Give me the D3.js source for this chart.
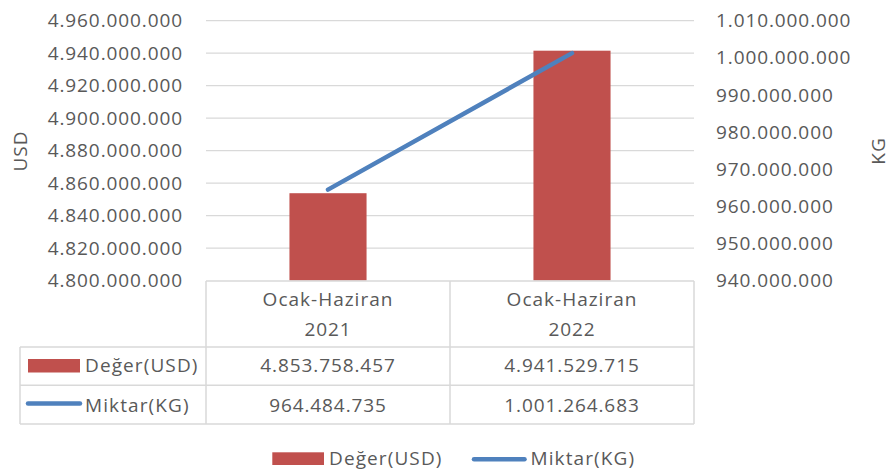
<!DOCTYPE html>
<html>
<head>
<meta charset="utf-8">
<script src="https://cdn.jsdelivr.net/npm/d3@7"></script>
<style>
  body { margin: 0; background: #fff; }
  svg { display: block; font-family: "Open Sans", sans-serif; }
  text { fill: #595959; }
</style>
</head>
<body>
<svg width="891" height="474"></svg>
<script>
var categories = ["Ocak-Haziran 2021", "Ocak-Haziran 2022"];
var degerUSD = [4853758457, 4941529715];
var miktarKG = [964484735, 1001264683];
var leftTicks = [4800000000, 4820000000, 4840000000, 4860000000, 4880000000, 4900000000, 4920000000, 4940000000, 4960000000];
var rightTicks = [940000000, 950000000, 960000000, 970000000, 980000000, 990000000, 1000000000, 1010000000];
var seriesNames = ["Değer(USD)", "Miktar(KG)"];

var red = "#C0504D", blue = "#4F81BD", grid = "#D9D9D9";
var fmt = function(v) { return d3.format(",")(v).replace(/,/g, "."); };

var svg = d3.select("svg");
var plotLeft = 206, plotRight = 694, plotTop = 20.7, plotBottom = 280.5;

var x = d3.scaleBand().domain(categories).range([plotLeft, plotRight])
    .paddingInner(0.684).paddingOuter(0.342);
var y = d3.scaleLinear().domain([4800000000, 4960000000]).range([plotBottom, plotTop]);
var y2 = d3.scaleLinear().domain([940000000, 1010000000]).range([plotBottom, plotTop]);

// gridlines
svg.append("g").selectAll("line").data(leftTicks.slice(1)).join("line")
    .attr("x1", plotLeft).attr("x2", plotRight)
    .attr("y1", d => y(d)).attr("y2", d => y(d))
    .attr("stroke", grid).attr("stroke-width", 1.3);

// axes
var ga = svg.append("g").attr("transform", "translate(183,0)")
    .call(d3.axisLeft(y).tickValues(leftTicks).tickFormat(fmt).tickSize(0).tickPadding(0));
ga.select(".domain").remove();
ga.selectAll("text").attr("font-size", 19).attr("font-family", "Open Sans").attr("letter-spacing", 0.9).style("fill", "#595959");

var gb = svg.append("g").attr("transform", "translate(716,0)")
    .call(d3.axisRight(y2).tickValues(rightTicks).tickFormat(fmt).tickSize(0).tickPadding(0));
gb.select(".domain").remove();
gb.selectAll("text").attr("font-size", 19).attr("font-family", "Open Sans").attr("letter-spacing", 0.9).style("fill", "#595959");

svg.append("text").attr("transform", "translate(27,151) rotate(-90)")
    .attr("text-anchor", "middle").attr("font-size", 19).attr("letter-spacing", 1).text("USD");
svg.append("text").attr("transform", "translate(885,151) rotate(-90)")
    .attr("text-anchor", "middle").attr("font-size", 19).attr("letter-spacing", 1).text("KG");

// bars
svg.append("g").selectAll("rect").data(degerUSD).join("rect")
    .attr("x", (d, i) => x(categories[i]))
    .attr("width", x.bandwidth())
    .attr("y", d => y(d))
    .attr("height", d => plotBottom - y(d))
    .attr("fill", red);

// line
var line = d3.line()
    .x((d, i) => x(categories[i]) + x.bandwidth() / 2)
    .y(d => y2(d));
svg.append("path").datum(miktarKG)
    .attr("d", line).attr("fill", "none")
    .attr("stroke", blue).attr("stroke-width", 4.5).attr("stroke-linecap", "round");

// data table
var t = svg.append("g").attr("stroke", grid).attr("stroke-width", 1.5).attr("fill", "none");
var rowY = [281, 347, 385.3, 424];
t.append("line").attr("x1", plotLeft).attr("x2", plotRight).attr("y1", rowY[0]).attr("y2", rowY[0]);
[1, 2, 3].forEach(function(r) {
    t.append("line").attr("x1", 20).attr("x2", plotRight).attr("y1", rowY[r]).attr("y2", rowY[r]);
});
t.append("line").attr("x1", 20).attr("x2", 20).attr("y1", rowY[1]).attr("y2", rowY[3]);
[plotLeft, (plotLeft + plotRight) / 2, plotRight].forEach(function(xx) {
    t.append("line").attr("x1", xx).attr("x2", xx).attr("y1", rowY[0]).attr("y2", rowY[3]);
});

categories.forEach(function(c, i) {
    var cx = x(c) + x.bandwidth() / 2;
    var parts = c.split(" ");
    svg.append("text").attr("x", cx).attr("y", 306).attr("text-anchor", "middle")
        .attr("font-size", 19).attr("letter-spacing", 1).text(parts[0]);
    svg.append("text").attr("x", cx).attr("y", 336).attr("text-anchor", "middle")
        .attr("font-size", 19).attr("letter-spacing", 0.9).text(parts[1]);
    svg.append("text").attr("x", cx).attr("y", 372).attr("text-anchor", "middle")
        .attr("font-size", 19).attr("letter-spacing", 0.9).text(fmt(degerUSD[i]));
    svg.append("text").attr("x", cx).attr("y", 411.5).attr("text-anchor", "middle")
        .attr("font-size", 19).attr("letter-spacing", 0.9).text(fmt(miktarKG[i]));
});

// table legend keys
svg.append("rect").attr("x", 28).attr("y", 359).attr("width", 52).attr("height", 13.5).attr("fill", red);
svg.append("text").attr("x", 85).attr("y", 372).attr("font-size", 19).attr("letter-spacing", 1.1).text(seriesNames[0]);
svg.append("line").attr("x1", 28).attr("x2", 80).attr("y1", 403.5).attr("y2", 403.5)
    .attr("stroke", blue).attr("stroke-width", 4.5).attr("stroke-linecap", "round");
svg.append("text").attr("x", 85).attr("y", 411.5).attr("font-size", 19).attr("letter-spacing", 1.1).text(seriesNames[1]);

// bottom legend
svg.append("rect").attr("x", 272.3).attr("y", 452.3).attr("width", 51.7).attr("height", 12.7).attr("fill", red);
svg.append("text").attr("x", 329).attr("y", 465).attr("font-size", 19).attr("letter-spacing", 1.1).text(seriesNames[0]);
svg.append("line").attr("x1", 474).attr("x2", 524.5).attr("y1", 459.3).attr("y2", 459.3)
    .attr("stroke", blue).attr("stroke-width", 4.5).attr("stroke-linecap", "round");
svg.append("text").attr("x", 530.5).attr("y", 465).attr("font-size", 19).attr("letter-spacing", 1.1).text(seriesNames[1]);
</script>
</body>
</html>
